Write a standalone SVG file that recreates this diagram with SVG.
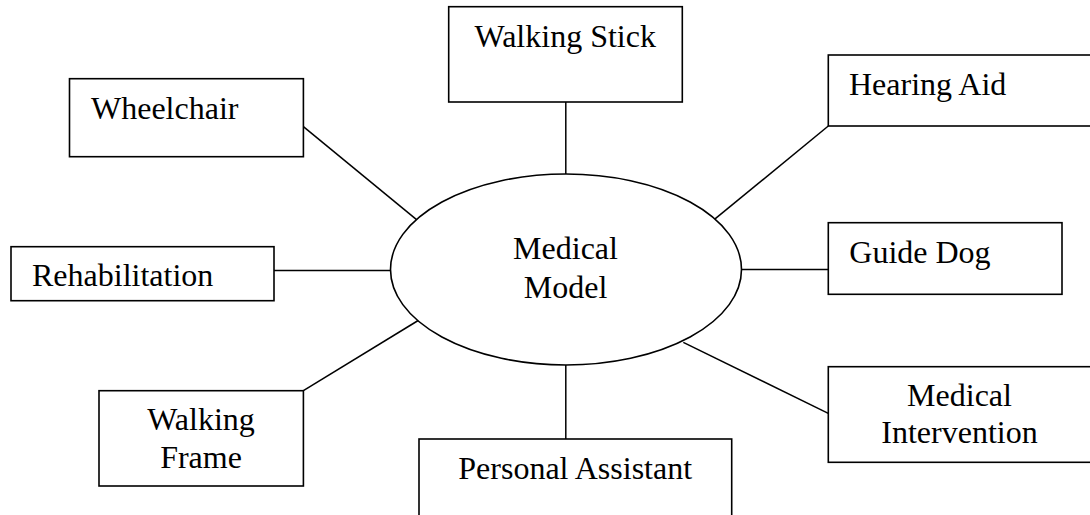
<svg xmlns="http://www.w3.org/2000/svg" width="1090" height="515" viewBox="0 0 1090 515">
<style>
.box{fill:#fff;stroke:#000;stroke-width:1.6}
.el{fill:#fff;stroke:#000;stroke-width:1.6}
.ln{stroke:#000;stroke-width:1.5;fill:none}
text{font-family:"Liberation Serif","Times New Roman",serif;font-size:32px;fill:#000}
.c{text-anchor:middle}
</style>
<rect width="1090" height="515" fill="#fff"/>
<g id="connectors">
<line class="ln" x1="303.4" y1="126.7" x2="419" y2="221.7"/>
<line class="ln" x1="565.8" y1="102" x2="565.8" y2="174"/>
<line class="ln" x1="828.3" y1="126" x2="712.9" y2="220.7"/>
<line class="ln" x1="274" y1="270.5" x2="390.5" y2="270.5"/>
<line class="ln" x1="741.5" y1="269.5" x2="828.3" y2="269.5"/>
<line class="ln" x1="303.4" y1="390.7" x2="419" y2="320"/>
<line class="ln" x1="565.8" y1="365" x2="565.8" y2="439"/>
<line class="ln" x1="683.3" y1="342.3" x2="828.3" y2="413.3"/>
</g>
<g id="center">
<ellipse class="el" cx="566" cy="269.5" rx="175.5" ry="95.5"/>
<text class="c" x="565.5" y="259.3">Medical</text>
<text class="c" x="565.5" y="298.3">Model</text>
</g>
<g id="wheelchair">
<rect class="box" x="69.5" y="78.7" width="233.9" height="78"/>
<text x="91" y="119">Wheelchair</text>
</g>
<g id="walking-stick">
<rect class="box" x="448.7" y="6.7" width="233.6" height="95.3"/>
<text x="474.5" y="46.7">Walking Stick</text>
</g>
<g id="hearing-aid">
<rect class="box" x="828.3" y="55" width="263" height="71"/>
<text x="849" y="95">Hearing Aid</text>
</g>
<g id="rehabilitation">
<rect class="box" x="11" y="246.7" width="263" height="54"/>
<text x="32" y="285.7">Rehabilitation</text>
</g>
<g id="guide-dog">
<rect class="box" x="828.3" y="222.7" width="233.7" height="71.6"/>
<text x="849.3" y="263.3">Guide Dog</text>
</g>
<g id="walking-frame">
<rect class="box" x="99" y="390.7" width="204.4" height="95.3"/>
<text class="c" x="201" y="430">Walking</text>
<text class="c" x="201" y="467.7">Frame</text>
</g>
<g id="personal-assistant">
<rect class="box" x="419" y="439" width="312.7" height="90"/>
<text x="458.3" y="479">Personal Assistant</text>
</g>
<g id="medical-intervention">
<rect class="box" x="828.3" y="366.7" width="263" height="95.6"/>
<text class="c" x="959.5" y="405.7">Medical</text>
<text class="c" x="959.5" y="443.3">Intervention</text>
</g>
</svg>
